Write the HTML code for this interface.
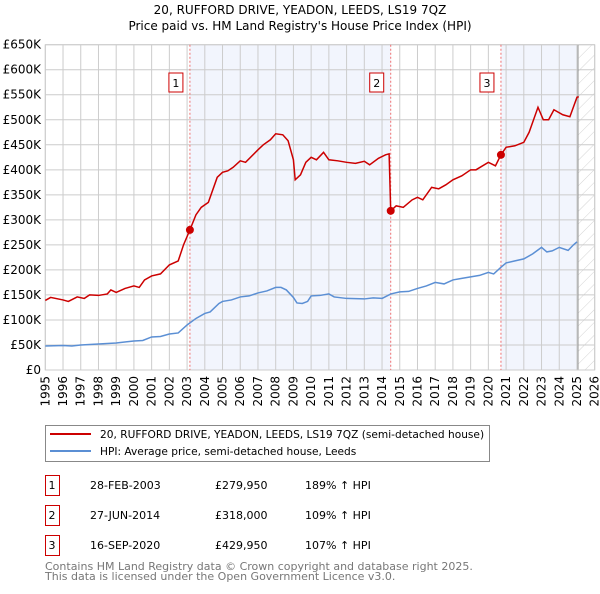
<!DOCTYPE html>
<html><head><meta charset="utf-8"><style>
body{margin:0;background:#fff;font-family:"DejaVu Sans","Liberation Sans",sans-serif}
svg text{font-family:"DejaVu Sans","Liberation Sans",sans-serif}
</style></head><body>
<svg id="c" width="600" height="590" xmlns="http://www.w3.org/2000/svg">
<defs><pattern id="hatch" width="9" height="9" patternUnits="userSpaceOnUse" patternTransform="rotate(45)"><line x1="0" y1="0" x2="0" y2="9" stroke="#d4d4d4" stroke-width="1"/></pattern></defs>
<text x="300" y="14" text-anchor="middle" font-size="12">20, RUFFORD DRIVE, YEADON, LEEDS, LS19 7QZ</text>
<text x="300" y="30" text-anchor="middle" font-size="12">Price paid vs. HM Land Registry's House Price Index (HPI)</text>
<g id="plot"></g>
<g>
<rect x="45.5" y="425.5" width="444" height="36" fill="#fff" stroke="#888"/>
<line x1="50" y1="434" x2="91" y2="434" stroke="#cc0000" stroke-width="2"/>
<text x="100" y="438" font-size="10.6">20, RUFFORD DRIVE, YEADON, LEEDS, LS19 7QZ (semi-detached house)</text>
<line x1="50" y1="451" x2="91" y2="451" stroke="#5b8fd4" stroke-width="2"/>
<text x="100" y="455" font-size="10.6">HPI: Average price, semi-detached house, Leeds</text>
</g>
<g id="table" font-size="11"></g>
<text x="45" y="570" font-size="11" fill="#777">Contains HM Land Registry data © Crown copyright and database right 2025.</text>
<text x="45" y="580" font-size="11" fill="#777">This data is licensed under the Open Government Licence v3.0.</text>
</svg>
<script>
const hpiT=[1995,1996,1996.5,1997,1998,1999,2000,2000.5,2001,2001.5,2002,2002.5,2003,2003.5,2004,2004.3,2004.8,2005,2005.5,2006,2006.5,2007,2007.5,2008,2008.3,2008.6,2009,2009.2,2009.5,2009.8,2010,2010.5,2011,2011.3,2012,2013,2013.5,2014,2014.5,2015,2015.5,2016,2016.5,2017,2017.5,2018,2018.5,2019,2019.5,2020,2020.3,2020.7,2021,2021.5,2022,2022.5,2023,2023.3,2023.6,2024,2024.5,2024.8,2025];
const hpiV=[48,49,48,50,52,54,58,59,66,67,72,74,90,103,113,116,133,137,140,146,148,154,158,165,165,160,145,134,133,137,148,149,152,146,143,142,144,143,152,156,157,163,168,175,172,180,183,186,189,195,192,205,214,218,222,232,245,236,238,245,239,250,256];
const redT=[1995,1995.3,1996,1996.3,1996.8,1997.2,1997.5,1998,1998.5,1998.7,1999,1999.5,2000,2000.3,2000.6,2001,2001.5,2002,2002.5,2002.8,2003.16,2003.5,2003.8,2004.2,2004.7,2005,2005.3,2005.6,2006,2006.3,2007,2007.3,2007.7,2008,2008.4,2008.7,2009,2009.1,2009.4,2009.7,2010,2010.3,2010.7,2011,2011.5,2012,2012.5,2013,2013.3,2013.8,2014.2,2014.4,2014.49,2014.8,2015.2,2015.7,2016,2016.3,2016.8,2017.2,2017.6,2018,2018.5,2019,2019.3,2020,2020.4,2020.71,2021,2021.5,2022,2022.3,2022.8,2023.1,2023.4,2023.7,2024.2,2024.6,2025,2025.1];
const redV=[139,145,140,137,146,143,150,149,152,160,155,163,168,165,180,188,192,210,218,250,280,310,325,335,385,395,398,405,418,415,440,450,460,472,470,458,420,380,390,415,425,420,435,420,418,415,413,417,410,423,430,432,318,328,325,340,345,340,365,362,370,380,388,400,400,415,408,430,445,448,455,475,525,500,500,520,510,506,545,546];
const saleT=[2003.16,2014.49,2020.71];
const saleV=[279.95,318,429.95];
const saleLabels=["1","2","3"];
const saleDates=["28-FEB-2003","27-JUN-2014","16-SEP-2020"];
const salePrices=["£279,950","£318,000","£429,950"];
const saleHpi=["189% ↑ HPI","109% ↑ HPI","107% ↑ HPI"];
const yTicks=[0,50,100,150,200,250,300,350,400,450,500,550,600,650];
const xTicks=[1995,1996,1997,1998,1999,2000,2001,2002,2003,2004,2005,2006,2007,2008,2009,2010,2011,2012,2013,2014,2015,2016,2017,2018,2019,2020,2021,2022,2023,2024,2025,2026];
const X0=45.3,X1=594.7,Y0=370,Y1=44.7;
const x=t=>X0+(t-1995)/31*(X1-X0);
const y=v=>Y0-v/650*(Y0-Y1);
const NS="http://www.w3.org/2000/svg";
const plot=document.getElementById('plot');
function mk(tag,attrs,parent){const e=document.createElementNS(NS,tag);for(const k in attrs)e.setAttribute(k,attrs[k]);(parent||plot).appendChild(e);return e;}
let bg=mk('rect',{x:X0,y:Y1,width:X1-X0,height:Y0-Y1,fill:'#fff'});


let s1=mk('rect',{x:x(saleT[0]),y:Y1,width:x(saleT[1])-x(saleT[0]),height:Y0-Y1,fill:'#f2f5fd'});


let s3=mk('rect',{x:x(saleT[2]),y:Y1,width:x(2025.06)-x(saleT[2]),height:Y0-Y1,fill:'#f2f5fd'});


let h=mk('rect',{x:x(2025.06),y:Y1,width:X1-x(2025.06),height:Y0-Y1,fill:'url(#hatch)'});


yTicks.forEach(v=>{
 let l=mk('line',{x1:X0,x2:X1,y1:y(v),y2:y(v),stroke:'#ccc'});
 
 
 let t=mk('text',{x:41,y:y(v)+4,'text-anchor':'end','font-size':12});
 
 
 t.textContent=v===0?'£0':'£'+v+'K';
});
xTicks.forEach(v=>{
 let l=mk('line',{x1:x(v),x2:x(v),y1:Y1,y2:Y0,stroke:'#ccc'});
 
 
 let t=mk('text',{x:0,y:0,'text-anchor':'end','font-size':12,transform:`translate(${x(v)+4},${Y0+6}) rotate(-90)`});
 
 
 t.textContent=v;
});
let ed=mk('line',{x1:x(2025.06),x2:x(2025.06),y1:Y1,y2:Y0,stroke:'#999'});


let fr=mk('rect',{x:X0,y:Y1,width:X1-X0,height:Y0-Y1,fill:'none',stroke:'#ccc'});


saleT.forEach((t,i)=>{
 let l=mk('line',{x1:x(t),x2:x(t),y1:Y1,y2:Y0,stroke:'#f07070','stroke-dasharray':'2,2'});
 
 
 let r=mk('rect',{x:x(t)-21,y:73,width:14,height:19,fill:'#fff',stroke:'#cc0000'});
 
 
 let tx=mk('text',{x:x(t)-14,y:87,'text-anchor':'middle','font-size':11});
 
 
 tx.textContent=saleLabels[i];
});
let hp=mk('polyline',{points:hpiT.map((t,i)=>x(t)+','+y(hpiV[i])).join(' '),fill:'none',stroke:'#5b8fd4','stroke-width':1.5});


let rd=mk('polyline',{points:redT.map((t,i)=>x(t)+','+y(redV[i])).join(' '),fill:'none',stroke:'#cc0000','stroke-width':1.5});


saleT.forEach((t,i)=>{
 let c=mk('circle',{cx:x(t),cy:y(saleV[i]),r:4,fill:'#cc0000'});
 
 
});
const tb=document.getElementById('table');
saleLabels.forEach((s,i)=>{
 const yy=475+i*30;
 let r=mk('rect',{x:45.5,y:yy+0.5,width:14,height:20,fill:'#fff',stroke:'#cc0000'},tb);
 
 
 const vals=[[s,52,'middle'],[saleDates[i],90,'start'],[salePrices[i],215,'start'],[saleHpi[i],305,'start']];
 vals.forEach(v=>{
  let t=mk('text',{x:v[1],y:yy+14,'text-anchor':v[2]},tb);
  
  
  t.textContent=v[0];
 });
});
</script>
</body></html>
